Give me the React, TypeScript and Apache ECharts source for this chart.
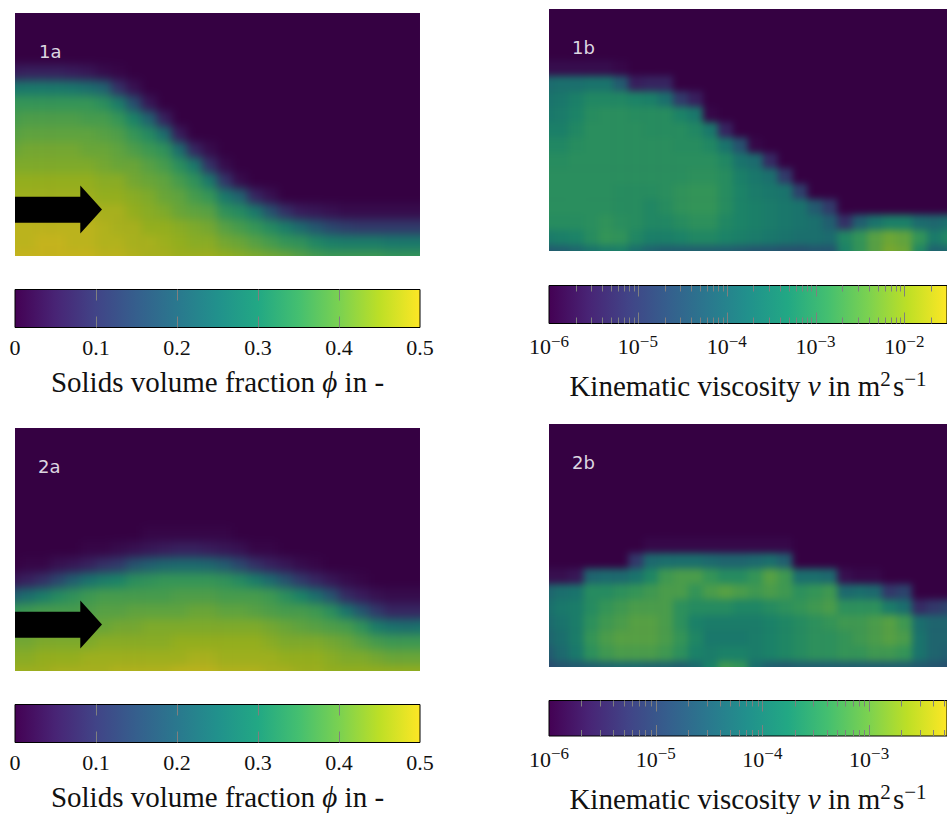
import React, { useEffect, useRef } from "react";
import * as echarts from "echarts";

// Colour scale of the colour bars, and the same scale as the shaded panels show it
const viridis = ["#440154", "#482475", "#414487", "#355f8d", "#2a788e", "#21918c", "#22a884", "#44bf70", "#7ad151", "#bddf26", "#fde725"];
const panelShade = 0.78;

const phiTicks = [0, 0.1, 0.2, 0.3, 0.4, 0.5];
const nuDecades = [1e-6, 1e-5, 1e-4, 1e-3, 1e-2];
const nuMinorSteps = [2, 3, 4, 5, 6, 7, 8, 9];
const nuMax1 = Math.pow(10, -1.52);
const nuMax2 = Math.pow(10, -2.27);

const ROWS = 17;
// Each column lists its cells from the layer surface down to the bed; the cells above are empty.
// Solids volume fraction in hundredths
const phi1a = [
  [5,26,35,37,39,41,43,45,46,48,49,49,50],
  [6,27,35,38,40,42,43,45,46,48,49,49,50],
  [6,27,35,38,40,42,43,45,46,48,49,50,50],
  [6,27,35,38,40,42,43,45,46,48,49,50,50],
  [5,26,35,38,40,42,43,45,46,48,49,49,50],
  [4,24,35,37,40,41,43,45,46,48,49,49,50],
  [2,21,33,37,39,41,42,44,45,47,48,48,49],
  [1,9,28,35,38,40,41,44,45,47,47,48,49],
  [3,16,30,35,38,41,42,44,45,47,47,48],
  [4,21,32,36,39,41,43,44,45,47,47],
  [6,24,34,37,40,41,43,45,46,47],
  [5,24,33,37,40,41,44,45,46],
  [7,27,34,37,40,43,44,46],
  [2,9,27,35,39,42,44,46],
  [2,10,27,34,39,42,45],
  [2,21,32,37,41,44],
  [7,27,35,39,43],
  [3,17,32,37,42],
  [9,28,35,41],
  [5,23,34,39],
  [4,18,31,37],
  [3,14,29,36],
  [2,12,28,36],
  [2,11,28,36],
  [2,11,28,36],
  [2,11,27,35],
  [2,11,27,35],
  [2,11,27,35],
];
const phi2a = [
  [4,20,35,38,42,44,46],
  [1,6,24,36,39,42,44,46],
  [1,9,28,37,40,43,45,46],
  [3,14,32,37,40,43,45,47],
  [4,20,34,37,40,43,45,47],
  [1,6,25,36,38,41,43,46,47],
  [1,9,28,37,39,41,44,46,47],
  [2,11,30,37,39,42,44,46,48],
  [3,17,33,37,40,42,44,46,48],
  [1,4,20,34,37,40,43,44,46,48],
  [1,5,22,35,37,40,43,44,46,48],
  [1,6,23,35,38,40,43,45,46,49],
  [1,6,23,35,38,41,43,45,47,49],
  [1,5,22,35,38,41,43,45,47,49],
  [1,4,19,34,37,40,43,45,46,48],
  [3,14,32,37,40,43,45,46,48],
  [1,9,28,37,39,43,45,46,48],
  [1,6,23,36,38,42,44,46,47],
  [4,17,33,37,41,43,45,47],
  [2,11,30,37,40,43,45,46],
  [1,7,24,36,39,43,45,46],
  [4,17,33,38,42,44,45],
  [2,8,26,37,41,43,45],
  [1,5,18,34,39,43,45],
  [3,11,28,37,42,45],
  [2,7,25,36,41,45],
  [2,7,24,36,41,45],
  [2,7,25,36,41,45],
];
// log10 of the kinematic viscosity
const nu1b = [
  [-5.8,-3.9,-3.7,-3.6,-3.4,-3.2,-3.1,-3.05,-3.05,-3.05,-3.1,-3.5,-4.3],
  [-5.8,-3.8,-3.6,-3.5,-3.4,-3.2,-3.1,-3.05,-3.05,-3.05,-3.1,-3.4,-4.2],
  [-5.8,-3.8,-3.4,-3.3,-3.2,-3.1,-3.05,-3.05,-3.05,-3.05,-3.1,-3.3,-4.0],
  [-5.8,-3.7,-3.2,-3.1,-3.05,-3.05,-3.05,-3.05,-3.05,-3.05,-3.05,-3.1,-3.7],
  [-5.8,-3.7,-3.2,-3.05,-3.05,-3.05,-3.05,-3.05,-3.05,-3.05,-2.95,-2.9,-3.5],
  [-5.9,-4.3,-3.2,-3.05,-3.05,-3.05,-3.05,-3.05,-3.1,-3.1,-3.05,-2.95,-3.4],
  [-5.5,-3.3,-3.1,-3.05,-3.05,-3.05,-3.05,-3.1,-3.1,-3.1,-3.2,-3.8],
  [-5.4,-3.4,-3.1,-3.1,-3.05,-3.05,-3.05,-3.1,-3.2,-3.2,-3.4,-4.1],
  [-5.4,-3.8,-3.1,-3.1,-3.05,-3.05,-3.05,-3.05,-3.1,-3.2,-3.4,-4.2],
  [-5.0,-3.3,-3.1,-3.1,-3.05,-3.05,-2.95,-2.95,-3.1,-3.3,-4.2],
  [-5.5,-3.6,-3.2,-3.1,-3.05,-3.0,-2.9,-2.9,-3.0,-3.2,-4.2],
  [-5.9,-3.6,-3.2,-3.05,-3.0,-2.9,-2.9,-3.0,-3.2,-4.2],
  [-5.4,-3.7,-3.2,-3.1,-3.1,-3.1,-3.2,-3.3,-4.2],
  [-4.5,-3.7,-3.4,-3.3,-3.3,-3.3,-3.4,-4.3],
  [-5.9,-3.9,-3.6,-3.5,-3.4,-3.4,-3.5,-4.4],
  [-5.3,-3.8,-3.6,-3.5,-3.5,-3.6,-4.4],
  [-5.0,-3.7,-3.6,-3.6,-3.7,-4.5],
  [-4.9,-3.7,-3.7,-3.8,-4.5],
  [-4.3,-3.8,-3.8,-4.4],
  [-5.0,-4.2,-3.9,-4.4],
  [-5.2,-3.2,-3.3],
  [-4.2,-2.9,-2.9],
  [-3.7,-2.5,-2.5],
  [-3.4,-2.3,-2.2],
  [-3.4,-2.4,-2.3],
  [-3.9,-2.9,-3.2],
  [-4.0,-3.5,-4.1],
  [-3.8,-3.2,-4.0],
];
const nu2b = [
  [-5.8,-4.4,-4.2,-4.3,-4.4,-4.6,-4.9],
  [-5.8,-4.2,-4.0,-4.1,-4.2,-4.3,-4.7],
  [-5.7,-4.1,-3.9,-3.9,-3.9,-4.0,-4.6],
  [-4.4,-3.6,-3.6,-3.5,-3.4,-3.5,-4.5],
  [-4.3,-3.6,-3.4,-3.3,-3.2,-3.3,-4.4],
  [-4.3,-3.5,-3.3,-3.2,-3.1,-3.2,-4.3],
  [-5.2,-4.1,-3.4,-3.2,-3.1,-3.1,-3.2,-4.3],
  [-5.9,-4.3,-3.7,-3.3,-3.2,-3.1,-3.1,-3.2,-4.4],
  [-5.9,-4.2,-3.3,-3.2,-3.2,-3.2,-3.2,-3.3,-4.4],
  [-5.9,-4.2,-3.2,-3.2,-3.5,-3.5,-3.4,-3.5,-4.5],
  [-5.9,-4.2,-3.2,-3.4,-3.6,-3.8,-3.7,-3.8,-4.3],
  [-5.9,-4.3,-3.4,-3.2,-3.6,-3.9,-4.0,-3.9,-3.8],
  [-5.9,-4.4,-3.6,-3.1,-3.6,-3.9,-4.0,-3.8,-3.3],
  [-5.9,-4.4,-3.6,-3.2,-3.7,-3.9,-4.0,-3.8,-3.4],
  [-5.9,-4.3,-3.4,-3.3,-3.7,-3.9,-3.9,-3.9,-4.2],
  [-5.9,-4.2,-3.1,-3.2,-3.6,-3.8,-3.8,-3.8,-4.5],
  [-5.9,-4.5,-3.3,-3.3,-3.5,-3.7,-3.7,-3.7,-4.6],
  [-4.2,-3.5,-3.4,-3.6,-3.6,-3.6,-4.5],
  [-4.2,-3.4,-3.3,-3.5,-3.5,-3.5,-4.5],
  [-4.3,-3.3,-3.2,-3.4,-3.5,-3.5,-4.5],
  [-5.8,-4.3,-3.5,-3.3,-3.4,-3.4,-4.5],
  [-5.9,-4.2,-3.5,-3.3,-3.3,-3.4,-4.5],
  [-5.9,-4.3,-3.5,-3.2,-3.2,-3.3,-4.5],
  [-5.2,-3.9,-3.1,-3.1,-3.3,-4.5],
  [-5.0,-4.2,-3.3,-3.2,-3.4,-4.5],
  [-5.4,-4.2,-4.1,-4.1,-4.6],
  [-5.2,-4.4,-4.4,-4.4,-4.7],
  [-5.0,-4.4,-4.4,-4.5,-4.8],
];

const panelLabels = ["1a", "1b", "2a", "2b"];
const axisTitlePhi = "Solids volume fraction {i|\u03d5} in -";
const axisTitleNu = "Kinematic viscosity {i|\u03bd} in m{sup|2}{sp| }s{sup|\u22121}";

// Layout in page pixels
const BLUR_MARGIN = 10;
const panels = [
  { left: 15, top: 13, width: 405, height: 243, columns: phi1a, empty: 0, min: 0, max: 50, blur: 5 },
  { left: 549, top: 9, width: 398, height: 242, columns: nu1b, empty: -6, min: -6, max: -1.52, blur: 3.5 },
  { left: 15, top: 428, width: 405, height: 243, columns: phi2a, empty: 0, min: 0, max: 50, blur: 5 },
  { left: 549, top: 424, width: 398, height: 242.5, columns: nu2b, empty: -6, min: -6, max: -2.27, blur: 3.5 },
];
const bars = [
  { left: 15, top: 289.5, width: 405, height: 38 },
  { left: 549, top: 285.5, width: 400, height: 38 },
  { left: 15, top: 704.5, width: 405, height: 38 },
  { left: 549, top: 700.5, width: 400, height: 38 },
];

function shade(hex: string) {
  const n = parseInt(hex.slice(1), 16);
  const part = (s: number) => Math.round(((n >> s) & 255) * panelShade);
  return `rgb(${part(16)},${part(8)},${part(0)})`;
}

function heatmapOption(p: (typeof panels)[number]) {
  const data: number[][] = [];
  p.columns.forEach((col, c) => {
    const pad = ROWS - col.length;
    for (let r = 0; r < ROWS; r++) data.push([c, r, r < pad ? p.empty : col[r - pad]]);
  });
  return {
    animation: false,
    backgroundColor: shade(viridis[0]),
    grid: { left: 0, right: 0, top: 0, bottom: 0 },
    xAxis: { type: "category", show: false, data: p.columns.map((_, i) => String(i)) },
    yAxis: { type: "category", show: false, inverse: true, data: Array.from({ length: ROWS }, (_, i) => String(i)) },
    visualMap: { show: false, min: p.min, max: p.max, dimension: 2, inRange: { color: viridis.map(shade) } },
    series: [{ type: "heatmap", data, progressive: 0, itemStyle: { borderWidth: 0 } }],
  };
}

const serif = "'Liberation Serif', serif";

function superLabel(v: number) {
  const e = Math.round(Math.log10(v));
  return `{b|10}{s|\u2212${Math.abs(e)}}`;
}

function barGradient() {
  return new echarts.graphic.LinearGradient(
    0, 0, 1, 0,
    viridis.map((color, i) => ({ offset: i / (viridis.length - 1), color }))
  );
}

function barSeries(index: number, from: number, to: number, major: number[], minor: number[], majorLen: number) {
  return [
    {
      type: "custom",
      xAxisIndex: index,
      yAxisIndex: index,
      z: 2,
      silent: true,
      encode: { x: [0, 1] },
      data: [[from, to]],
      renderItem: (_: any, api: any) => {
        const a = api.coord([api.value(0), 1]);
        const b = api.coord([api.value(1), 0]);
        return {
          type: "rect",
          shape: { x: a[0], y: a[1], width: b[0] - a[0], height: b[1] - a[1] },
          style: { fill: barGradient(), stroke: "#000", lineWidth: 1 },
        };
      },
    },
    {
      type: "custom",
      xAxisIndex: index,
      yAxisIndex: index,
      z: 3,
      silent: true,
      encode: { x: 0, y: 1 },
      data: [...major.map((v) => [v, majorLen]), ...minor.map((v) => [v, 6])],
      renderItem: (_: any, api: any) => {
        const len = api.value(1);
        const top = api.coord([api.value(0), 1]);
        const bot = api.coord([api.value(0), 0]);
        const style = { stroke: "#7f7f7f", lineWidth: 1 };
        const x = Math.round(top[0]) + 0.5;
        return {
          type: "group",
          children: [
            { type: "line", shape: { x1: x, y1: top[1], x2: x, y2: top[1] + len }, style },
            { type: "line", shape: { x1: x, y1: bot[1], x2: x, y2: bot[1] - len }, style },
          ],
        };
      },
    },
  ];
}

const nameStyle = {
  fontFamily: serif,
  fontSize: 29,
  color: "#111",
  rich: {
    i: { fontFamily: serif, fontSize: 29, fontStyle: "italic", color: "#111" },
    sup: { fontFamily: serif, fontSize: 21, color: "#111", padding: [0, 0, 14, 0] },
    sp: { fontFamily: serif, fontSize: 9, color: "#111" },
  },
};

function linearAxis(index: number) {
  return {
    type: "value",
    gridIndex: index,
    min: 0,
    max: 0.5,
    interval: 0.1,
    axisLine: { show: false },
    axisTick: { show: false },
    splitLine: { show: false },
    axisLabel: {
      margin: 9,
      fontFamily: serif,
      fontSize: 22,
      color: "#111",
      showMinLabel: true,
      showMaxLabel: true,
      formatter: (v: number) => (v === 0 ? "0" : v.toFixed(1)),
    },
    name: axisTitlePhi,
    nameLocation: "middle",
    nameGap: 40,
    nameTextStyle: nameStyle,
  };
}

function logAxis(index: number, max: number) {
  return {
    type: "log",
    logBase: 10,
    gridIndex: index,
    min: 1e-6,
    max,
    axisLine: { show: false },
    axisTick: { show: false },
    splitLine: { show: false },
    minorTick: { show: false },
    axisLabel: {
      margin: 9,
      fontFamily: serif,
      fontSize: 22,
      color: "#111",
      showMinLabel: true,
      showMaxLabel: false,
      formatter: superLabel,
      rich: {
        b: { fontFamily: serif, fontSize: 22, color: "#111" },
        s: { fontFamily: serif, fontSize: 17, color: "#111", padding: [0, 0, 11, 0] },
      },
    },
    name: axisTitleNu,
    nameLocation: "middle",
    nameGap: 45,
    nameTextStyle: nameStyle,
  };
}

function arrow(topOffset: number) {
  return {
    type: "polygon",
    shape: {
      points: [
        [15, 196.7 + topOffset], [80.3, 196.7 + topOffset], [80.3, 185.5 + topOffset], [102, 209.5 + topOffset],
        [80.3, 233.5 + topOffset], [80.3, 222.7 + topOffset], [15, 222.7 + topOffset],
      ],
    },
    style: { fill: "#000" },
    z: 10,
  };
}

function label(text: string, x: number, y: number) {
  return {
    type: "text",
    x,
    y,
    z: 10,
    style: { text, fontFamily: "'DejaVu Sans', sans-serif", fontSize: 18, fill: "#dcd6e0", textVerticalAlign: "middle" },
  };
}

function overlayOption() {
  const minors = (decades: number[], max: number) =>
    decades.concat([decades[decades.length - 1] * 10]).flatMap((d) => nuMinorSteps.map((s) => s * d)).filter((v) => v < max);
  const major = (max: number) => nuDecades.filter((v) => v < max && v > 1e-6);
  const phiMajor = phiTicks.slice(1, -1);
  return {
    animation: false,
    grid: bars.map((b) => ({ left: b.left, top: b.top, width: b.width, height: b.height, containLabel: false })),
    xAxis: [linearAxis(0), logAxis(1, nuMax1), linearAxis(2), logAxis(3, nuMax2)],
    yAxis: bars.map((_, i) => ({ type: "value", gridIndex: i, min: 0, max: 1, show: false })),
    series: [
      ...barSeries(0, 0, 0.5, phiMajor, [], 11),
      ...barSeries(1, 1e-6, nuMax1, major(nuMax1), minors(nuDecades, nuMax1), 11),
      ...barSeries(2, 0, 0.5, phiMajor, [], 11),
      ...barSeries(3, 1e-6, nuMax2, major(nuMax2), minors(nuDecades, nuMax2), 11),
    ],
    graphic: [
      arrow(0),
      arrow(415),
      label(panelLabels[0], 39, 51),
      label(panelLabels[1], 572, 47),
      label(panelLabels[2], 38, 466),
      label(panelLabels[3], 572, 462),
    ],
  };
}

export default function App() {
  const overlayRef = useRef<HTMLDivElement>(null);
  const panelRefs = useRef<(HTMLDivElement | null)[]>([]);

  useEffect(() => {
    const charts = panels.map((p, i) => {
      const c = echarts.init(panelRefs.current[i]!, undefined, { renderer: "svg" });
      c.setOption(heatmapOption(p) as any);
      return c;
    });
    const overlay = echarts.init(overlayRef.current!, undefined, { renderer: "svg" });
    overlay.setOption(overlayOption() as any);
    return () => {
      charts.forEach((c) => c.dispose());
      overlay.dispose();
    };
  }, []);

  return (
    <div style={{ position: "absolute", left: 0, top: 0, width: 947, height: 814, overflow: "hidden", background: "#fff" }}>
      {panels.map((p, i) => (
        <div key={i} style={{ position: "absolute", left: p.left, top: p.top, width: p.width, height: p.height, overflow: "hidden" }}>
          <div
            ref={(el) => {
              panelRefs.current[i] = el;
            }}
            style={{
              position: "absolute",
              left: -BLUR_MARGIN,
              top: -BLUR_MARGIN,
              width: p.width + 2 * BLUR_MARGIN,
              height: p.height + 2 * BLUR_MARGIN,
              filter: `blur(${p.blur}px)`,
            }}
          />
        </div>
      ))}
      <div ref={overlayRef} style={{ position: "absolute", left: 0, top: 0, width: 947, height: 814 }} />
    </div>
  );
}
